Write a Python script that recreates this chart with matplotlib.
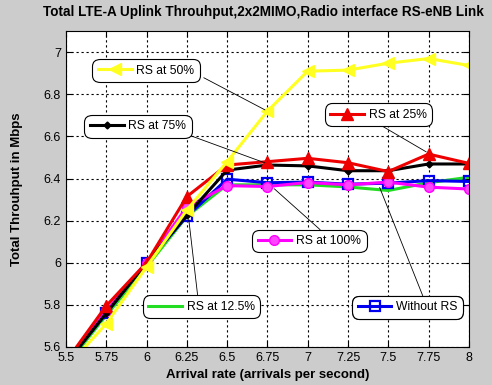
import matplotlib
matplotlib.use("Agg")
import matplotlib.pyplot as plt
from matplotlib.lines import Line2D

plt.rcParams['font.family'] = ['Liberation Sans', 'DejaVu Sans']

# arrival rate (arrivals per second)
arrival = [5.5, 5.75, 6, 6.25, 6.5, 6.75, 7, 7.25, 7.5, 7.75, 8]

rs_50 = [5.50, 5.71, 5.98, 6.25, 6.48, 6.72, 6.91, 6.915, 6.948, 6.97, 6.937]
rs_25 = [5.53, 5.795, 6.00, 6.314, 6.464, 6.48, 6.496, 6.475, 6.433, 6.516, 6.472]
rs_75 = [5.52, 5.76, 6.00, 6.225, 6.44, 6.464, 6.46, 6.437, 6.437, 6.469, 6.469]
without_rs = [5.52, 5.76, 6.00, 6.22, 6.397, 6.38, 6.383, 6.373, 6.378, 6.39, 6.386]
rs_12_5 = [5.51, 5.75, 5.98, 6.22, 6.37, 6.37, 6.37, 6.36, 6.343, 6.38, 6.406]
rs_100 = [5.53, 5.77, 6.00, 6.264, 6.366, 6.362, 6.381, 6.37, 6.383, 6.359, 6.35]

xticks = [5.5, 5.75, 6, 6.25, 6.5, 6.75, 7, 7.25, 7.5, 7.75, 8]
xtick_labels = ['5.5', '5.75', '6', '6.25', '6.5', '6.75', '7', '7.25', '7.5', '7.75', '8']
yticks = [5.6, 5.8, 6, 6.2, 6.4, 6.6, 6.8, 7]
ytick_labels = ['5.6', '5.8', '6', '6.2', '6.4', '6.6', '6.8', '7']

fig = plt.figure(figsize=(4.92, 3.85), dpi=100, facecolor='#cccccc')
ax = fig.add_axes([0.134, 0.099, 0.819, 0.820])

styles = {
    'RS at 12.5%': dict(color='#22dd22', marker=None),
    'Without RS': dict(color='#0000ee', marker='s', mfc='none', ms=6.5, mew=1.6),
    'RS at 100%': dict(color='#ff00ff', marker='o', mfc='#ff44ff', ms=7),
    'RS at 75%': dict(color='black', marker='D', ms=3.5),
    'RS at 25%': dict(color='#ee0000', marker='^', ms=9),
    'RS at 50%': dict(color='#ffff22', marker='<', ms=9),
}
series = {
    'RS at 12.5%': rs_12_5,
    'Without RS': without_rs,
    'RS at 100%': rs_100,
    'RS at 75%': rs_75,
    'RS at 25%': rs_25,
    'RS at 50%': rs_50,
}

lines = {}
for name, vals in series.items():
    st = styles[name]
    ln, = ax.plot(arrival, vals, lw=2.2, **st)
    lines[name] = ln

ax.set_xlim(5.5, 8)
ax.set_ylim(5.6, 7.1)
ax.set_xticks(xticks)
ax.set_xticklabels(xtick_labels)
ax.set_yticks(yticks)
ax.set_yticklabels(ytick_labels)
ax.tick_params(direction='in', top=True, right=True, labelsize=9, length=4)
ax.grid(True, color='black', linestyle=(0, (2, 2.5)), linewidth=0.8)

ax.set_title('Total LTE-A Uplink Throuhput,2x2MIMO,Radio interface RS-eNB Link',
             fontsize=9.75, fontweight='bold', pad=11, x=0.49)
ax.set_xlabel('Arrival rate (arrivals per second)', fontsize=9.5, fontweight='bold', labelpad=4)
ax.set_ylabel('Total Throuhput in Mbps', fontsize=9.5, fontweight='bold', labelpad=15)

# text-arrow boxes: (box centre, arrow start, arrow end) in data coords
boxes = {
    'RS at 50%': ((5.997, 6.913), (6.34, 6.885), (6.75, 6.72)),
    'RS at 75%': ((5.947, 6.648), (6.25, 6.61), (6.75, 6.47)),
    'RS at 25%': ((7.44, 6.703), (7.42, 6.668), (7.75, 6.52)),
    'RS at 100%': ((7.01, 6.103), (7.09, 6.148), (6.78, 6.36)),
    'RS at 12.5%': ((6.34, 5.79), (6.32, 5.826), (6.26, 6.22)),
    'Without RS': ((7.62, 5.789), (7.72, 5.831), (7.44, 6.37)),
}

for name, (centre, start, end) in boxes.items():
    ax.annotate('', xy=end, xytext=start,
                arrowprops=dict(arrowstyle='-', color='black', lw=0.6))
    src = lines[name]
    h = Line2D([], [], color=src.get_color(), lw=2.2, marker=src.get_marker(),
               ms=src.get_markersize(), mfc=src.get_markerfacecolor(),
               mew=src.get_markeredgewidth())
    leg = ax.legend([h], [name], loc='center', bbox_to_anchor=centre,
                    bbox_transform=ax.transData, fontsize=8.7, handlelength=2.8,
                    handletextpad=0.4, borderpad=0.25, borderaxespad=0,
                    fancybox=True, framealpha=1, edgecolor='black',
                    facecolor='white', numpoints=1)
    leg.get_frame().set_linewidth(0.8)
    leg.get_frame().set_boxstyle('round', pad=0.2, rounding_size=0.6)
    ax.add_artist(leg)

fig.savefig('out.png', dpi=100, facecolor=fig.get_facecolor())
